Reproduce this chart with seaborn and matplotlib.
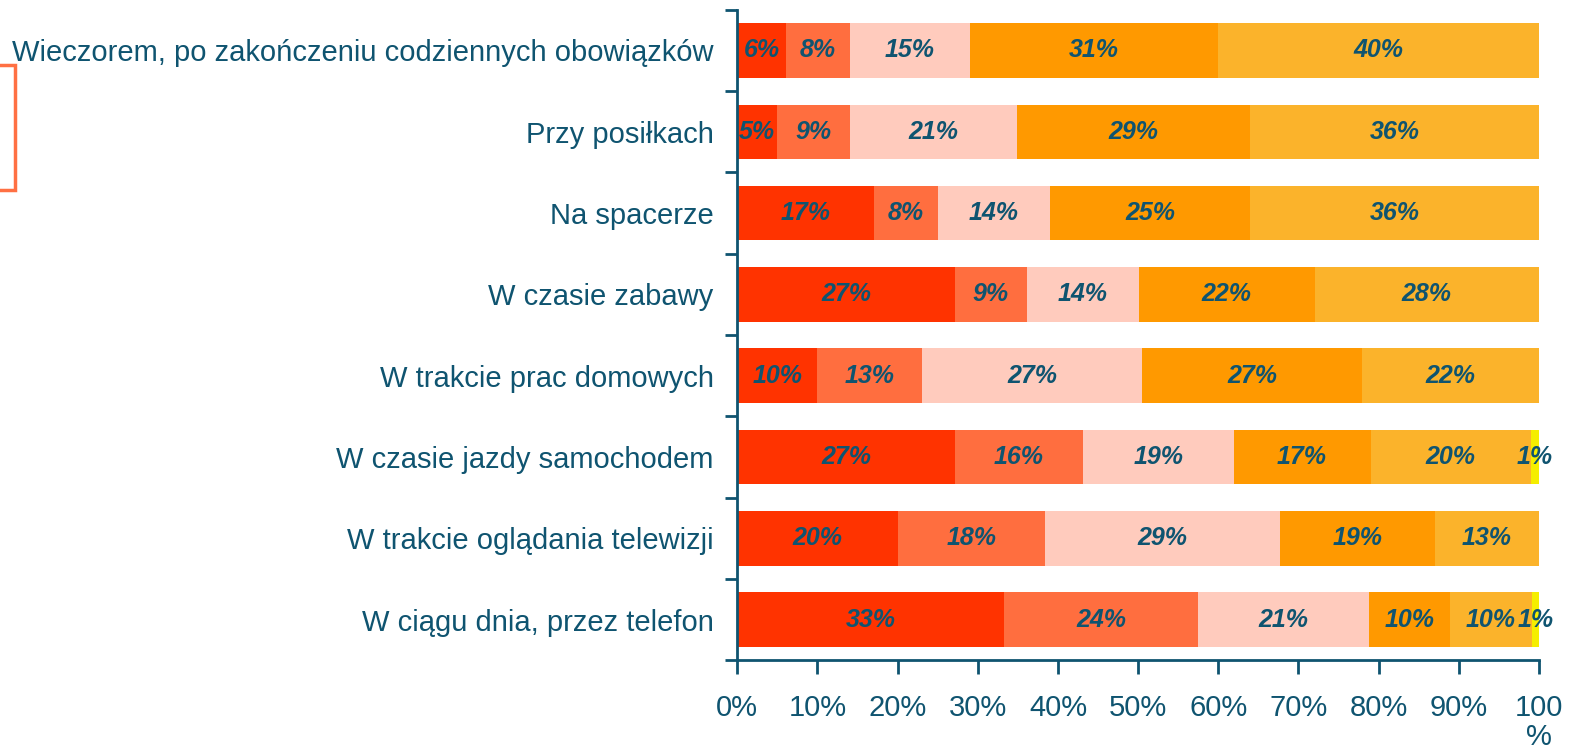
import numpy as np
import pandas as pd
import matplotlib
matplotlib.use("Agg")
import matplotlib.pyplot as plt
import seaborn as sns
from matplotlib.patches import Rectangle

categories = [
    "Wieczorem, po zakończeniu codziennych obowiązków",
    "Przy posiłkach",
    "Na spacerze",
    "W czasie zabawy",
    "W trakcie prac domowych",
    "W czasie jazdy samochodem",
    "W trakcie oglądania telewizji",
    "W ciągu dnia, przez telefon",
]

# segment values in % (6 answer levels)
seg1 = [6.1, 4.9, 17.0, 27.1, 10.0, 27.1, 20.1, 33.3]
seg2 = [7.9, 9.1, 8.0, 9.0, 13.1, 16.0, 18.3, 24.2]
seg3 = [15.0, 20.9, 14.0, 14.0, 27.4, 18.8, 29.3, 21.3]
seg4 = [31.0, 29.1, 25.0, 21.9, 27.4, 17.1, 19.3, 10.1]
seg5 = [40.0, 36.0, 36.0, 28.0, 22.1, 20.0, 13.0, 10.2]
seg6 = [0.0, 0.0, 0.0, 0.0, 0.0, 1.0, 0.0, 0.9]

colors = ["#FF3300", "#FF6E3F", "#FFCBBD", "#FF9900", "#FBB32B", "#F5EE00"]
tick_labels = ["0%", "10%", "20%", "30%", "40%", "50%", "60%", "70%", "80%", "90%", "100\n%"]

teal = "#0F5470"
segs = [seg1, seg2, seg3, seg4, seg5, seg6]
df = pd.DataFrame({"cat": categories})
for i, s in enumerate(segs):
    df[f"s{i}"] = s
cum = np.cumsum(np.array(segs), axis=0)
for i in range(len(segs)):
    df[f"c{i}"] = cum[i]

plt.rcParams["font.family"] = ["Liberation Sans", "DejaVu Sans"]
fig, ax = plt.subplots(figsize=(15.72, 7.52), dpi=100)
fig.subplots_adjust(left=0.469, right=0.979, top=0.987, bottom=0.122)

# draw cumulative totals from the longest down so each segment shows
for i in reversed(range(len(segs))):
    sns.barplot(data=df, y="cat", x=f"c{i}", orient="h", color=colors[i],
                width=0.67, ax=ax, saturation=1, edgecolor="none")

for r in range(len(categories)):
    for i in range(len(segs)):
        v = segs[i][r]
        if v <= 0:
            continue
        mid = cum[i][r] - v / 2
        ax.text(mid, r, f"{round(v)}%", ha="center", va="center",
                fontsize=18, fontweight="bold", fontstyle="italic",
                color=teal, clip_on=False)

ax.set_xlim(0, 100)
ax.set_ylim(7.5, -0.5)
ax.set_xlabel("")
ax.set_ylabel("")
ax.set_xticks(np.arange(0, 101, 10))
ax.set_xticklabels(tick_labels, fontsize=21, color=teal, linespacing=1.05)
ax.set_yticks(range(len(categories)))
ax.set_yticklabels(categories, fontsize=21, color=teal)
ax.tick_params(axis="y", length=0, pad=17)
ax.set_yticks(np.arange(-0.5, 8, 1), minor=True)
ax.tick_params(axis="y", which="minor", length=9, width=2, color=teal, direction="out")
ax.tick_params(axis="x", length=10, width=2, color=teal, pad=14)
for side in ["top", "right"]:
    ax.spines[side].set_visible(False)
for side in ["left", "bottom"]:
    ax.spines[side].set_color(teal)
    ax.spines[side].set_linewidth(2)
ax.grid(False)

# cut-off legend frame at the left edge
fig.patches.append(Rectangle((-0.01, 1 - 190 / 752), 0.0195, 125 / 752,
                             transform=fig.transFigure, fill=False,
                             edgecolor="#FF7043", linewidth=2.5))

fig.savefig("out.png", dpi=100)
